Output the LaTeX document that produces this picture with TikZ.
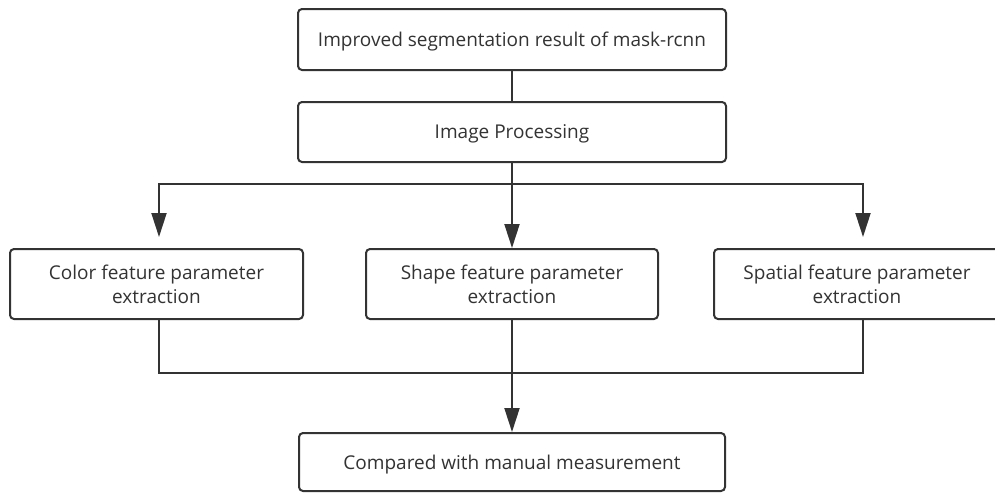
\documentclass[tikz,border=0pt]{standalone}
\usepackage{fontspec}
\setmainfont{Open Sans}
\usetikzlibrary{arrows.meta}
\definecolor{linec}{HTML}{333333}
\definecolor{textc}{HTML}{333333}
\begin{document}
\begin{tikzpicture}[x=1pt,y=-1pt,
  box/.style={draw=linec, line width=2pt, rounded corners=4pt, inner sep=0pt, text depth=0pt, text=textc, font=\fontsize{19}{24}\selectfont, align=center},
  conn/.style={draw=linec, line width=2pt},
  arr/.style={conn, -{Triangle[length=24pt,width=15pt]}}]
\clip (0,0) rectangle (995,493);
\fill[white] (0,0) rectangle (995,493);
\node[box, minimum width=428pt, minimum height=61pt] (top) at (512,39.5) {Improved segmentation result of mask-rcnn};
\node[box, minimum width=428pt, minimum height=60pt] (proc) at (512,132) {Image Processing};
\node[box, minimum width=293pt, minimum height=70pt] (left) at (156.5,284) {Color feature parameter\\extraction};
\node[box, minimum width=292pt, minimum height=70pt] (mid) at (512,284) {Shape feature parameter\\extraction};
\node[box, minimum width=286pt, minimum height=70pt] (right) at (857,284) {Spatial feature parameter\\extraction};
\node[box, minimum width=426pt, minimum height=58pt] (bot) at (512,462) {Compared with manual measurement};
\coordinate (bl) at (159,184);
\coordinate (br) at (863,184);
\coordinate (ml) at (159,373);
\coordinate (mr) at (863,373);
\draw[conn] (top) -- (proc);
\draw[arr] (proc.south) -- (mid.north);
\draw[arr, shorten >=11pt] (proc.south |- bl) -| (left.north -| bl);
\draw[arr, shorten >=11pt] (proc.south |- br) -| (right.north -| br);
\draw[conn] (left.south -| ml) -- (ml) -- (mr) -- (right.south -| mr);
\draw[arr] (mid.south) -- (bot.north);
\end{tikzpicture}
\end{document}
